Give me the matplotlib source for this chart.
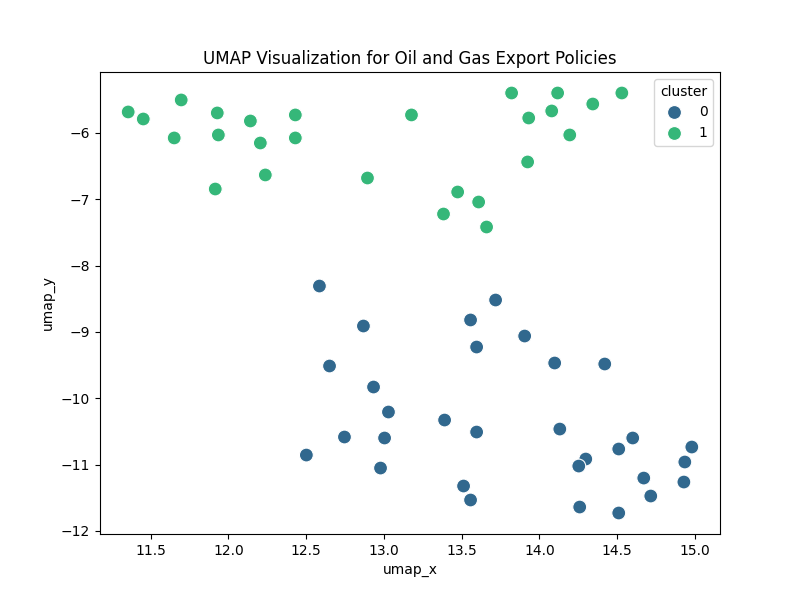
import matplotlib
matplotlib.use("Agg")
import matplotlib.pyplot as plt
import seaborn as sns
import pandas as pd

green_x = [11.355, 11.452, 11.696, 11.651, 11.928, 11.935, 11.915, 12.141, 12.205, 12.237,
           12.43, 12.43, 12.894, 13.177, 13.383, 13.474, 13.609, 13.66, 13.821, 13.931,
           13.924, 14.079, 14.117, 14.195, 14.343, 14.53]
green_y = [-5.683, -5.789, -5.502, -6.075, -5.698, -6.03, -6.845, -5.819, -6.151, -6.633,
           -5.728, -6.075, -6.679, -5.728, -7.222, -6.89, -7.041, -7.418, -5.397, -5.774,
           -6.437, -5.668, -5.397, -6.03, -5.563, -5.397]
blue_x = [12.585, 13.718, 12.868, 13.557, 13.905, 13.596, 12.65, 14.098, 14.42, 12.933,
          13.029, 13.39, 13.596, 14.131, 12.746, 13.004, 12.501, 12.978, 14.6, 14.98,
          14.51, 14.298, 14.253, 14.935, 14.671, 14.929, 14.716, 13.512, 13.557, 14.259, 14.51]
blue_y = [-8.308, -8.519, -8.911, -8.82, -9.062, -9.228, -9.514, -9.469, -9.484, -9.831,
          -10.208, -10.329, -10.51, -10.465, -10.585, -10.6, -10.857, -11.053, -10.6, -10.736,
          -10.766, -10.917, -11.023, -10.962, -11.204, -11.264, -11.475, -11.324, -11.535, -11.641, -11.731]

df = pd.DataFrame({
    "umap_x": blue_x + green_x,
    "umap_y": blue_y + green_y,
    "cluster": ["0"] * len(blue_x) + ["1"] * len(green_x),
})

fig, ax = plt.subplots(figsize=(8, 6), dpi=100)
sns.scatterplot(data=df, x="umap_x", y="umap_y", hue="cluster", palette="viridis", s=100, ax=ax)
ax.set_title("UMAP Visualization for Oil and Gas Export Policies")
ax.legend(title="cluster", loc="upper right")
fig.savefig("out.png")
